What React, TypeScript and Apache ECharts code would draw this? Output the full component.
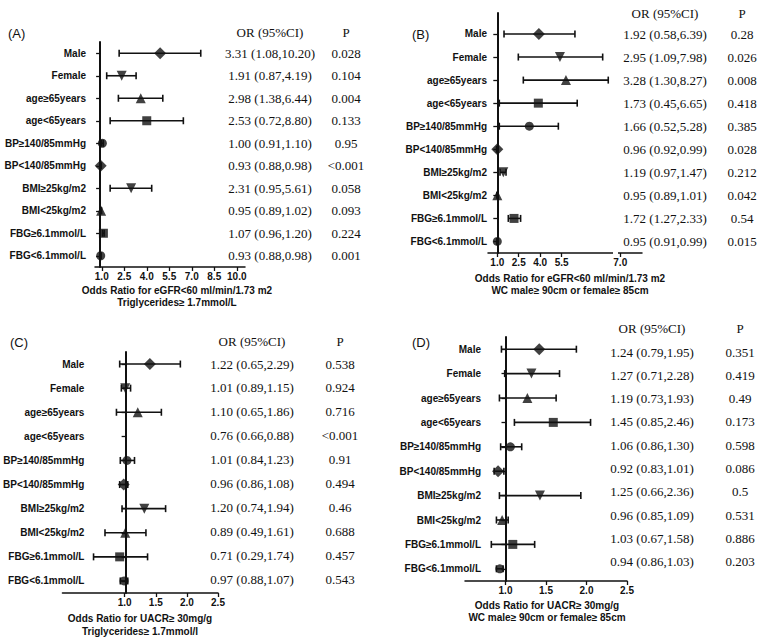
import React, { useEffect, useRef } from "react";
import * as echarts from "echarts";

const categories = [
  "Male", "Female", "age≥65years", "age<65years", "BP≥140/85mmHg",
  "BP<140/85mmHg", "BMI≥25kg/m2", "BMI<25kg/m2", "FBG≥6.1mmol/L", "FBG<6.1mmol/L",
];
const markerShapes = ["diamond", "tridown", "triangle", "rect", "circle", "diamond", "tridown", "triangle", "rect", "circle"];

// Panel A – eGFR<60, Triglycerides
const orA = ["3.31 (1.08,10.20)", "1.91 (0.87,4.19)", "2.98 (1.38,6.44)", "2.53 (0.72,8.80)", "1.00 (0.91,1.10)", "0.93 (0.88,0.98)", "2.31 (0.95,5.61)", "0.95 (0.89,1.02)", "1.07 (0.96,1.20)", "0.93 (0.88,0.98)"];
const pA = ["0.028", "0.104", "0.004", "0.133", "0.95", "<0.001", "0.058", "0.093", "0.224", "0.001"];
const pointA = [4.89, 2.33, 3.6, 4.0, 1.04, 0.93, 2.96, 0.96, 1.11, 0.93];
const lowA = [2.16, 1.33, 2.11, 1.56, 0.98, 0.9, 1.56, 0.93, 1.05, 0.9];
const highA = [7.6, 3.29, 5.07, 6.44, 1.1, 0.97, 4.33, 0.99, 1.16, 0.96];
const tickValA = [1, 2.5, 4, 5.5, 7, 8.5, 10];
const tickLabA = ["1.0", "2.5", "4.0", "5.5", "7.0", "8.5", "10.0"];

// Panel B – eGFR<60, WC
const orB = ["1.92 (0.58,6.39)", "2.95 (1.09,7.98)", "3.28 (1.30,8.27)", "1.73 (0.45,6.65)", "1.66 (0.52,5.28)", "0.96 (0.92,0.99)", "1.19 (0.97,1.47)", "0.95 (0.89,1.01)", "1.72 (1.27,2.33)", "0.95 (0.91,0.99)"];
const pB = ["0.28", "0.026", "0.008", "0.418", "0.385", "0.028", "0.212", "0.042", "0.54", "0.015"];
const pointB = [3.91, 5.38, 5.8, 3.87, 3.24, 1.0, 1.42, 1.0, 2.17, 1.0];
const lowB = [1.47, 2.47, 2.82, 1.14, 1.14, 0.95, 1.19, 0.97, 1.77, 0.97];
const highB = [6.43, 8.37, 8.76, 6.59, 5.27, 1.05, 1.61, 1.03, 2.63, 1.03];
const tickValB = [1, 2.5, 4, 5.5, 9.6];
const tickLabB = ["1.0", "2.5", "4.0", "5.5", "7.0"];

// Panel C – UACR≥30, Triglycerides
const orC = ["1.22 (0.65,2.29)", "1.01 (0.89,1.15)", "1.10 (0.65,1.86)", "0.76 (0.66,0.88)", "1.01 (0.84,1.23)", "0.96 (0.86,1.08)", "1.20 (0.74,1.94)", "0.89 (0.49,1.61)", "0.71 (0.29,1.74)", "0.97 (0.88,1.07)"];
const pC = ["0.538", "0.924", "0.716", "<0.001", "0.91", "0.494", "0.46", "0.688", "0.457", "0.543"];
const pointC = [1.405, 1.01, 1.21, null, 1.037, 0.984, 1.316, 1.01, 0.92, 0.99];
const lowC = [0.92, 0.947, 0.868, null, 0.93, 0.92, 0.958, 0.684, 0.5, 0.93];
const highC = [1.895, 1.095, 1.59, null, 1.158, 1.05, 1.658, 1.342, 1.368, 1.05];
const tickValC = [1, 1.5, 2, 2.5];
const tickLabC = ["1.0", "1.5", "2.0", "2.5"];

// Panel D – UACR≥30, WC
const orD = ["1.24 (0.79,1.95)", "1.27 (0.71,2.28)", "1.19 (0.73,1.93)", "1.45 (0.85,2.46)", "1.06 (0.86,1.30)", "0.92 (0.83,1.01)", "1.25 (0.66,2.36)", "0.96 (0.85,1.09)", "1.03 (0.67,1.58)", "0.94 (0.86,1.03)"];
const pD = ["0.351", "0.419", "0.49", "0.173", "0.598", "0.086", "0.5", "0.531", "0.886", "0.203"];
const pointD = [1.417, 1.32, 1.27, 1.59, 1.06, 0.908, 1.425, 0.958, 1.09, 0.93];
const lowD = [0.95, 0.99, 0.925, 1.11, 0.94, 0.86, 0.925, 0.888, 0.825, 0.888];
const highD = [1.875, 1.667, 1.625, 2.05, 1.2, 0.98, 1.93, 1.033, 1.36, 0.97];
const tickValD = [1, 1.5, 2, 2.5];
const tickLabD = ["1.0", "1.5", "2.0", "2.5"];

const panels = [
  {
    tag: "(A)", or: orA, p: pA, pt: pointA, lo: lowA, hi: highA, tv: tickValA, tl: tickLabA,
    title1: "Odds Ratio for eGFR<60 ml/min/1.73 m2", title2: "Triglycerides≥ 1.7mmol/L",
    grid: { left: 95, top: 42, width: 150, height: 225 }, xmin: 0.55, xmax: 10.55, ymin: -0.5, ymax: 9.5, axisAt: 0.89,
    labelRight: 86, tagPos: [8, 33], headY: 32, orX: 270, pX: 346, rowY0: 53.2, rowDy: 22.5, titleX: 177, titleY: [290, 302],
  },
  {
    tag: "(B)", or: orB, p: pB, pt: pointB, lo: lowB, hi: highB, tv: tickValB, tl: tickLabB,
    title1: "Odds Ratio for eGFR<60 ml/min/1.73 m2", title2: "WC male≥ 90cm or female≥ 85cm",
    grid: { left: 488, top: 13, width: 154, height: 240 }, xmin: 0.35, xmax: 11.12, ymin: -0.91, ymax: 9.5, axisAt: 1.0,
    labelRight: 487, tagPos: [412, 34], headY: 13, orX: 665, pX: 742, rowY0: 34.5, rowDy: 23.05, titleX: 570, titleY: [278, 290],
  },
  {
    tag: "(C)", or: orC, p: pC, pt: pointC, lo: lowC, hi: highC, tv: tickValC, tl: tickLabC,
    title1: "Odds Ratio for UACR≥ 30mg/g", title2: "Triglycerides≥ 1.7mmol/l",
    grid: { left: 60, top: 352, width: 158, height: 241 }, xmin: 0, xmax: 2.5, ymin: -0.5, ymax: 9.5, axisAt: 1.0,
    labelRight: 82, tagPos: [10, 342], headY: 341, orX: 252, pX: 340, rowY0: 364, rowDy: 23.9, titleX: 140, titleY: [618, 631],
  },
  {
    tag: "(D)", or: orD, p: pD, pt: pointD, lo: lowD, hi: highD, tv: tickValD, tl: tickLabD,
    title1: "Odds Ratio for UACR≥ 30mg/g", title2: "WC male≥ 90cm or female≥ 85cm",
    grid: { left: 465, top: 337, width: 162, height: 244 }, xmin: 0.5, xmax: 2.5, ymin: -0.5, ymax: 9.5, axisAt: 1.0,
    labelRight: 481, tagPos: [412, 342], headY: 328, orX: 652, pX: 740, rowY0: 352, rowDy: 23.3, titleX: 547, titleY: [605, 617],
  },
];

const INK = "#111";
const SERIF = "'Liberation Serif', 'Times New Roman', serif";
const SANS = "'Liberation Sans', Arial, sans-serif";

export default function App() {
  const ref = useRef<HTMLDivElement>(null);
  useEffect(() => {
    if (!ref.current) return;
    const chart = echarts.init(ref.current, undefined, { renderer: "svg" });

    const grids: any[] = [];
    const xAxes: any[] = [];
    const yAxes: any[] = [];
    const series: any[] = [];
    const graphics: any[] = [];

    panels.forEach((pn, k) => {
      grids.push({ ...pn.grid, containLabel: false });
      xAxes.push({
        type: "value", gridIndex: k, min: pn.xmin, max: pn.xmax,
        axisLine: { show: true, onZero: false, lineStyle: { color: INK, width: 1.5 } },
        axisTick: { show: true, customValues: pn.tv, length: 4, lineStyle: { color: INK, width: 1.3 } },
        axisLabel: {
          show: true, customValues: pn.tv, margin: 4,
          formatter: (v: number) => { const i = pn.tv.findIndex((t) => Math.abs(t - v) < 1e-6); return i >= 0 ? pn.tl[i] : ""; },
          color: INK, fontFamily: SANS, fontWeight: "bold", fontSize: 10,
        },
        splitLine: { show: false },
      });
      const axisPx = ((pn.axisAt - pn.xmin) / (pn.xmax - pn.xmin)) * pn.grid.width;
      const rows = categories.map((_, i) => i);
      yAxes.push({
        type: "value", gridIndex: k, min: pn.ymin, max: pn.ymax, inverse: true,
        offset: -axisPx,
        axisLine: { show: true, onZero: false, lineStyle: { color: INK, width: 2 } },
        axisTick: { show: true, customValues: rows, length: 4, lineStyle: { color: INK, width: 1.3 } },
        axisLabel: {
          show: true, customValues: rows, margin: pn.grid.left + axisPx - pn.labelRight,
          formatter: (v: number) => categories[Math.round(v)] ?? "",
          color: INK, fontFamily: SANS, fontWeight: "bold", fontSize: 10,
        },
        splitLine: { show: false },
      });

      const barData: any[] = [];
      const ptData: any[] = [];
      categories.forEach((_, i) => {
        if (pn.pt[i] == null) return;
        barData.push([pn.lo[i], pn.hi[i], i]);
        const shp = markerShapes[i];
        ptData.push({
          value: [pn.pt[i], i],
          symbol: shp === "tridown" ? "triangle" : shp,
          symbolRotate: shp === "tridown" ? 180 : 0,
          symbolSize: shp === "diamond" ? 12 : shp === "circle" ? 9 : shp === "rect" ? 9 : 10,
        });
      });

      series.push({
        type: "custom", xAxisIndex: k, yAxisIndex: k, data: barData,
        encode: { x: [0, 1], y: 2 }, z: 3,
        renderItem: (_p: any, api: any) => {
          const a = api.coord([api.value(0), api.value(2)]);
          const b = api.coord([api.value(1), api.value(2)]);
          const c = 3.5;
          const st = { stroke: INK, lineWidth: 1.6 };
          return {
            type: "group",
            children: [
              { type: "line", shape: { x1: a[0], y1: a[1], x2: b[0], y2: b[1] }, style: st },
              { type: "line", shape: { x1: a[0], y1: a[1] - c, x2: a[0], y2: a[1] + c }, style: st },
              { type: "line", shape: { x1: b[0], y1: b[1] - c, x2: b[0], y2: b[1] + c }, style: st },
            ],
          };
        },
      });
      series.push({
        type: "scatter", xAxisIndex: k, yAxisIndex: k, data: ptData, z: 4,
        itemStyle: { color: INK },
      });

      // panel tag + table headers
      graphics.push({ type: "text", x: pn.tagPos[0], y: pn.tagPos[1], style: { text: pn.tag, font: `13px ${SANS}`, fill: INK, textVerticalAlign: "middle" } });
      graphics.push({ type: "text", x: pn.orX, y: pn.headY, style: { text: "OR (95%CI)", font: `13px ${SERIF}`, fill: INK, textAlign: "center", textVerticalAlign: "middle" } });
      graphics.push({ type: "text", x: pn.pX, y: pn.headY, style: { text: "P", font: `13px ${SERIF}`, fill: INK, textAlign: "center", textVerticalAlign: "middle" } });
      pn.or.forEach((t, i) => {
        const y = pn.rowY0 + i * pn.rowDy;
        graphics.push({ type: "text", x: pn.orX, y, style: { text: t, font: `13px ${SERIF}`, fill: INK, textAlign: "center", textVerticalAlign: "middle" } });
        graphics.push({ type: "text", x: pn.pX, y, style: { text: pn.p[i], font: `13px ${SERIF}`, fill: INK, textAlign: "center", textVerticalAlign: "middle" } });
      });
      graphics.push({ type: "text", x: pn.titleX, y: pn.titleY[0], style: { text: pn.title1, font: `bold 10px ${SANS}`, fill: INK, textAlign: "center", textVerticalAlign: "middle" } });
      graphics.push({ type: "text", x: pn.titleX, y: pn.titleY[1], style: { text: pn.title2, font: `bold 10px ${SANS}`, fill: INK, textAlign: "center", textVerticalAlign: "middle" } });
    });

    // axis break gap on panel B
    graphics.push({ type: "rect", z: 100, shape: { x: 613, y: 249, width: 5, height: 6 }, style: { fill: "#fff" } });

    chart.setOption({
      animation: false,
      backgroundColor: "#fff",
      grid: grids,
      xAxis: xAxes,
      yAxis: yAxes,
      series,
      graphic: graphics,
    });
    return () => chart.dispose();
  }, []);

  return <div ref={ref} style={{ position: "absolute", left: 0, top: 0, width: 780, height: 638, background: "#fff" }} />;
}
